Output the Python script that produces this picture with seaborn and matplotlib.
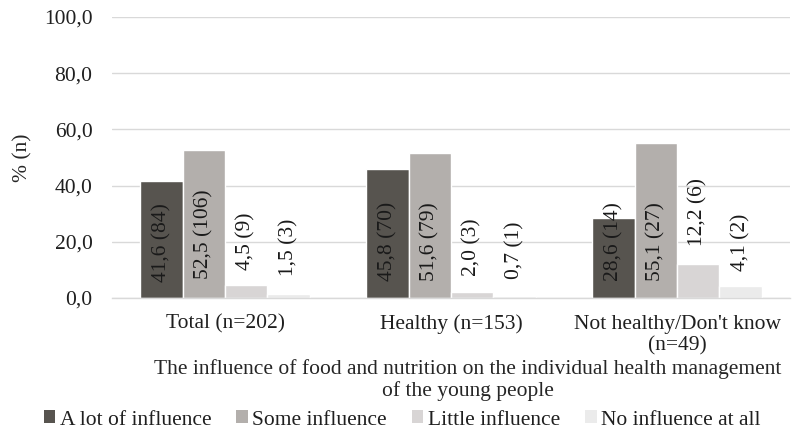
import matplotlib
matplotlib.use("Agg")
import matplotlib.pyplot as plt
import matplotlib.ticker as mticker
from matplotlib.patches import Patch
import seaborn as sns
import pandas as pd

# Groups, response levels and their shares (%) with counts
groups = ["Total (n=202)", "Healthy (n=153)", "Not healthy/Don't know\n(n=49)"]
levels = ["A lot of influence", "Some influence", "Little influence", "No influence at all"]
percent_total = [41.6, 52.5, 4.5, 1.5]
percent_healthy = [45.8, 51.6, 2.0, 0.7]
percent_not_healthy = [28.6, 55.1, 12.2, 4.1]
count_total = [84, 106, 9, 3]
count_healthy = [70, 79, 3, 1]
count_not_healthy = [14, 27, 6, 2]

# Vertical centre of each rotated value label (per group, per level)
label_centre = [
    [19.9, 22.6, 20.3, 18.0],
    [20.2, 20.2, 18.0, 17.1],
    [20.1, 20.1, 30.6, 19.8],
]

colors = ["#57544f", "#b3afac", "#d8d5d5", "#ebebeb"]

percents = [percent_total, percent_healthy, percent_not_healthy]
counts = [count_total, count_healthy, count_not_healthy]
rows = []
for g, pv, cv in zip(groups, percents, counts):
    for lvl, p, c in zip(levels, pv, cv):
        rows.append({"group": g, "level": lvl, "pct": p, "n": c})
df = pd.DataFrame(rows)

sns.set_style("white")
plt.rcParams["font.family"] = "serif"
plt.rcParams["font.serif"] = ["Liberation Serif", "DejaVu Serif"]
plt.rcParams["text.color"] = "#1f1f1f"

FS = 15.5

fig = plt.figure(figsize=(7.97, 4.34), dpi=100)
ax = fig.add_axes([112 / 797, (434 - 298) / 434, 678 / 797, 281 / 434])

sns.barplot(data=df, x="group", y="pct", hue="level", order=groups,
            hue_order=levels, palette=colors, width=0.75, saturation=1,
            errorbar=None, legend=False, ax=ax)

ax.set_ylim(0, 100)
ax.set_xlim(-0.5, 2.5)
ax.yaxis.set_major_locator(mticker.MultipleLocator(20))
ax.yaxis.set_major_formatter(mticker.FuncFormatter(lambda v, _: f"{v:.1f}".replace(".", ",")))
ax.grid(axis="y", color="#d9d9d9", linewidth=1)
ax.set_axisbelow(True)
for side in ["left", "right", "top"]:
    ax.spines[side].set_visible(False)
ax.spines["bottom"].set_color("#d9d9d9")
ax.spines["bottom"].set_linewidth(1)
ax.tick_params(axis="both", length=0, labelsize=FS, colors="#1f1f1f")
ax.tick_params(axis="y", pad=14)
ax.tick_params(axis="x", pad=12)
for lbl in ax.get_xticklabels():
    lbl.set_linespacing(1.15)

ax.set_ylabel("% (n)", fontsize=FS, labelpad=8)
ax.set_xlabel("The influence of food and nutrition on the individual health management\nof the young people",
              fontsize=FS, linespacing=1.1)
ax.xaxis.set_label_coords((468 - 112) / 678, (298 - 380) / 281)
ax.xaxis.label.set_va("center")

# Value labels: percent with comma decimal and count in parentheses
for li, container in enumerate(ax.containers):
    for gi, bar in enumerate(container):
        p = percents[gi][li]
        n = counts[gi][li]
        text = f"{p:.1f}".replace(".", ",") + f" ({n})"
        ax.text(bar.get_x() + bar.get_width() / 2, label_centre[gi][li], text,
                rotation=90, ha="center", va="center", fontsize=FS, color="#1a1a1a")

handles = [Patch(facecolor=c, edgecolor="none") for c in colors]
fig.legend(handles, levels, loc="center", bbox_to_anchor=(402 / 797, 1 - 420 / 434),
           ncol=4, frameon=False, fontsize=FS, handlelength=0.55, handleheight=0.55,
           handletextpad=0.2, columnspacing=1.15, borderpad=0)

fig.savefig("out.png", dpi=100)
